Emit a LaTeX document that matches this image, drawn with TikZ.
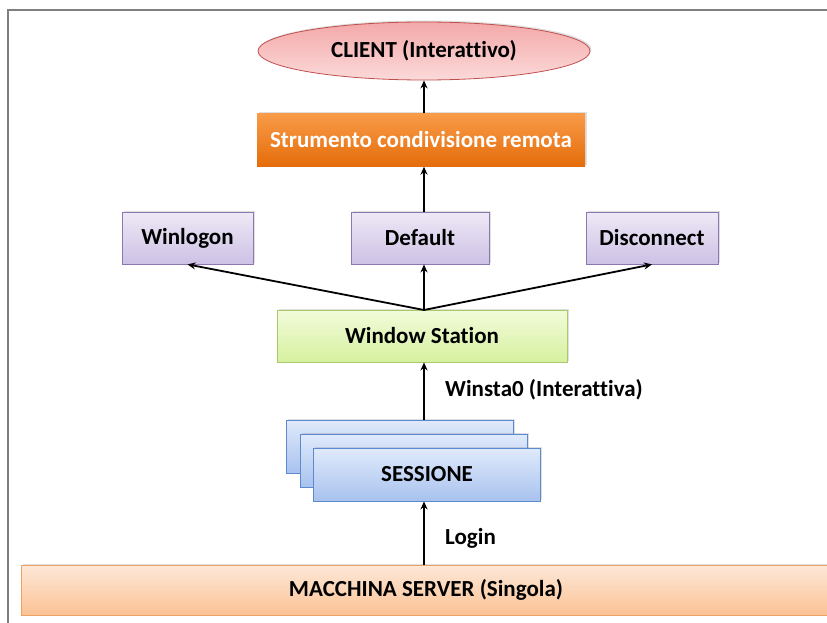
\documentclass[tikz,border=0pt]{standalone}
\usepackage{fontspec}
\setmainfont{Carlito}[Ligatures=NoCommon]
\usetikzlibrary{shapes.geometric,arrows.meta,calc,shadows}
\definecolor{frameGray}{HTML}{7F7F7F}
\definecolor{pinkTop}{HTML}{F3A9A9}
\definecolor{pinkBot}{HTML}{FCD9D9}
\definecolor{pinkBorder}{HTML}{C0504D}
\definecolor{orTop}{HTML}{F99B48}
\definecolor{orBot}{HTML}{E46C0A}
\definecolor{puTop}{HTML}{EEE9F6}
\definecolor{puBot}{HTML}{CDC1E5}
\definecolor{puBorder}{HTML}{8C78B0}
\definecolor{grTop}{HTML}{F2FBDA}
\definecolor{grBot}{HTML}{D6F19F}
\definecolor{grBorder}{HTML}{A9C96A}
\definecolor{blTop}{HTML}{E0EAFB}
\definecolor{blBot}{HTML}{A8C2EE}
\definecolor{blBorder}{HTML}{5B8AD0}
\definecolor{svTop}{HTML}{FDE8D8}
\definecolor{svBot}{HTML}{FBC294}
\definecolor{svBorder}{HTML}{F0A060}
\tikzset{
  base/.style={font=\fontsize{23}{27}\selectfont\bfseries, inner sep=0pt,
    drop shadow={shadow xshift=1.5pt, shadow yshift=1.5pt, opacity=0.25}},
  clientnode/.style={base, ellipse, draw=pinkBorder, line width=0.8pt,
    top color=pinkTop, bottom color=pinkBot, minimum width=332pt, minimum height=58pt},
  toolnode/.style={base, rectangle, top color=orTop, bottom color=orBot,
    text=white, minimum width=328pt, minimum height=53pt},
  deskbox/.style={base, rectangle, draw=puBorder, line width=0.8pt,
    top color=puTop, bottom color=puBot, minimum height=52pt},
  wsbox/.style={base, rectangle, draw=grBorder, line width=0.8pt,
    top color=grTop, bottom color=grBot, minimum width=290pt, minimum height=52pt},
  sesbox/.style={base, rectangle, draw=blBorder, line width=0.8pt,
    top color=blTop, bottom color=blBot, minimum width=227pt, minimum height=53pt},
  srvbox/.style={base, rectangle, draw=svBorder, line width=0.8pt,
    top color=svTop, bottom color=svBot, minimum width=810pt, minimum height=50pt},
  lbl/.style={font=\fontsize{23}{27}\selectfont\bfseries, anchor=west, inner sep=0pt},
  conn/.style={line width=1.8pt, -{Stealth[length=8pt,width=7pt]}}
}
\begin{document}
\begin{tikzpicture}[x=1pt,y=-1pt]
\clip (0,0) rectangle (827,623);
\fill[white] (0,0) rectangle (827,623);
\draw[frameGray, line width=2pt] (8,623) -- (8,10) -- (830,10);

\node[clientnode] (client) at (424,51) {CLIENT (Interattivo)};
\node[toolnode] (tool) at (421,140) {Strumento condivisione remota};
\node[deskbox, minimum width=131pt] (winlogon) at (187.5,238) {Winlogon};
\node[deskbox, minimum width=138pt] (default) at (420,238) {Default};
\node[deskbox, minimum width=132pt] (disconnect) at (652,238) {Disconnect};
\node[wsbox] (ws) at (422,336) {Window Station};
\node[sesbox] (s1) at (400,446.5) {};
\node[sesbox] (s2) at (413.5,460.5) {};
\node[sesbox] (s3) at (427,474.5) {SESSIONE};
\node[srvbox] (server) at (426,590) {MACCHINA SERVER (Singola)};

\node[lbl] (lwinsta) at (445,390) {Winsta0 (Interattiva)};
\node[lbl] (llogin) at (445,538) {Login};

\coordinate (wsTop) at (424,310);
\draw[conn] (tool.north -| wsTop) -- (client.south -| wsTop);
\draw[conn] (default.north -| wsTop) -- (tool.south -| wsTop);
\draw[conn] (wsTop) -- (winlogon.south);
\draw[conn] (wsTop) -- (default.south -| wsTop);
\draw[conn] (wsTop) -- (disconnect.south);
\draw[conn] (s1.north -| wsTop) -- (ws.south -| wsTop);
\draw[conn] (server.north -| wsTop) -- (s3.south -| wsTop);
\end{tikzpicture}
\end{document}
